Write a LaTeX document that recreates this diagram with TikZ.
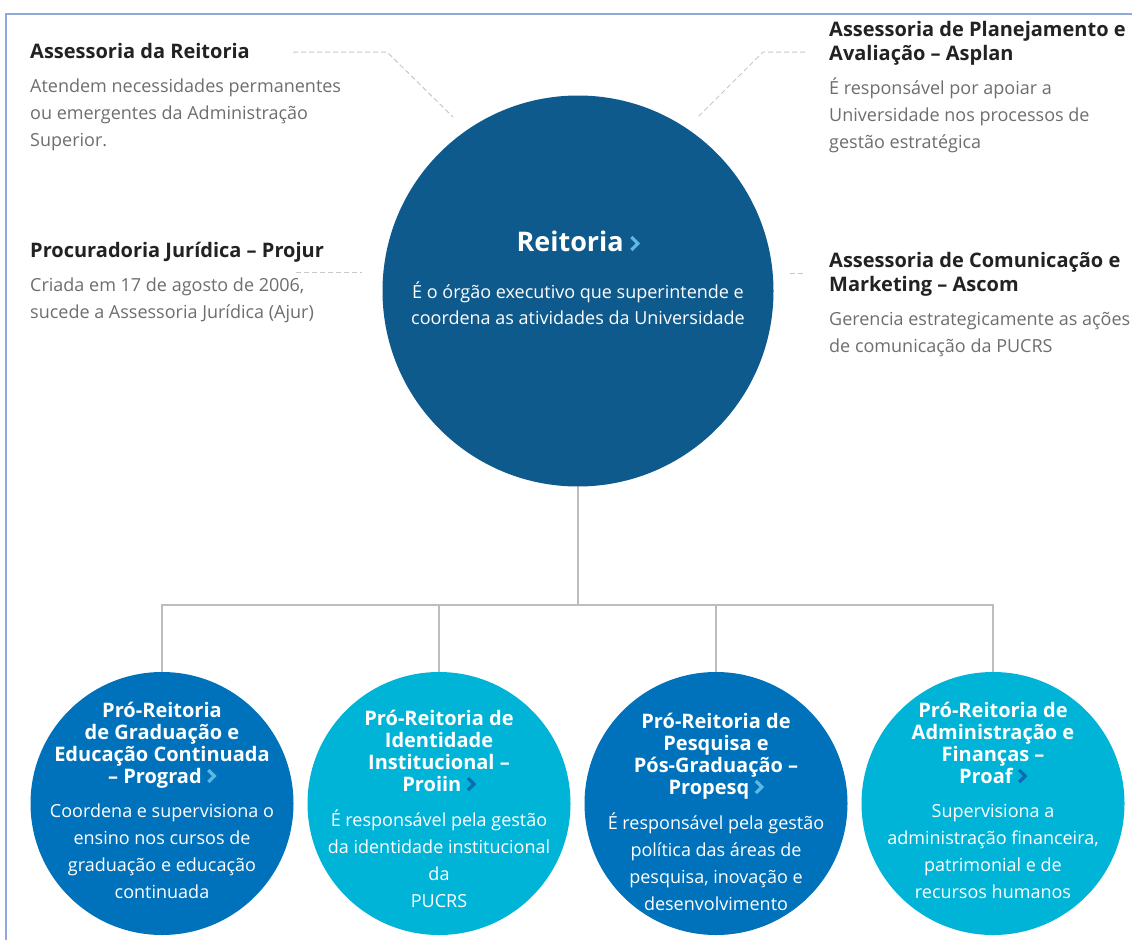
\documentclass[tikz,border=0pt]{standalone}
\usepackage{fontspec}
\setmainfont{Open Sans}
\definecolor{navy}{HTML}{0F5A8C}
\definecolor{pblue}{HTML}{0072BB}
\definecolor{pcyan}{HTML}{00B4D8}
\definecolor{chevl}{HTML}{5DB8E4}
\definecolor{chevd}{HTML}{0A6DB4}
\definecolor{headc}{HTML}{222222}
\definecolor{descc}{HTML}{6E6E6E}
\definecolor{dashc}{HTML}{C8C8C8}
\definecolor{connc}{HTML}{BDBDBD}
\definecolor{framec}{HTML}{8EAADB}
\newcommand{\chv}[2]{\tikz[baseline=0pt,x=1pt,y=1pt]{\draw[#1, line width=3.2pt, line cap=butt, line join=miter] (0,1) -- (#2*0.5,#2*0.5+1) -- (0,#2+1);}}
\tikzset{
  hd/.style={anchor=base west, inner sep=0, text=headc, font=\fontsize{20}{23.5}\selectfont\bfseries, align=left},
  ds/.style={anchor=base west, inner sep=0, text=descc, font=\fontsize{18}{27}\selectfont, align=left},
  bighead/.style={anchor=base, inner sep=0, text=white, font=\fontsize{20}{22}\selectfont\bfseries, align=center},
  bigdesc/.style={anchor=base, inner sep=0, text=white, font=\fontsize{18}{26.8}\selectfont, align=center},
  orb/.style={circle, inner sep=0, minimum size=263pt},
  conn/.style={draw=connc, line width=1.3pt},
  dashln/.style={draw=dashc, line width=1pt, dash pattern=on 5pt off 3pt},
}
\begin{document}
\begin{tikzpicture}[x=1pt,y=-1pt]
\useasboundingbox (0,0) rectangle (1132,940);
\fill[white] (0,0) rectangle (1132,940);
\draw[framec, line width=1.2pt] (6,940) -- (6,14) -- (1132,14);

% central circle
\node[circle, inner sep=0, minimum size=391pt, fill=navy] (reit) at (578,291) {};
\node[anchor=base, inner sep=0, text=white, font=\fontsize{27}{30}\selectfont\bfseries] (reitT) at (578,251) {Reitoria\hspace{6pt}\chv{chevl}{13}};
\node[anchor=base, inner sep=0, text=white, font=\fontsize{18}{26}\selectfont, align=center] (reitD) at (578,324)
  {É o órgão executivo que superintende e\\coordena as atividades da Universidade};

% side texts (base anchor = baseline of last line)
\node[hd] (arH) at (30,58) {Assessoria da Reitoria};
\node[ds] (arD) at (30,146) {Atendem necessidades permanentes\\ou emergentes da Administração\\Superior.};
\node[hd] (pjH) at (30,257) {Procuradoria Jurídica – Projur};
\node[ds] (pjD) at (30,318) {Criada em 17 de agosto de 2006,\\sucede a Assessoria Jurídica (Ajur)};
\node[hd] (apH) at (829,60) {Assessoria de Planejamento e\\Avaliação – Asplan};
\node[ds] (apD) at (829,148) {É responsável por apoiar a\\Universidade nos processos de\\gestão estratégica};
\node[hd] (acH) at (829,291) {Assessoria de Comunicação e\\Marketing – Ascom};
\node[ds] (acD) at (829,352) {Gerencia estrategicamente as ações\\de comunicação da PUCRS};

% dashed leaders
\coordinate (d1a) at (293,52); \coordinate (d1b) at (387,52); \coordinate (d1c) at (453,117);
\draw[dashln] (d1a) -- (d1b) -- (d1c);
\coordinate (d2a) at (296,272); \coordinate (d2b) at (362,272);
\draw[dashln] (d2a) -- (d2b);
\coordinate (d3a) at (805,52); \coordinate (d3b) at (763,52); \coordinate (d3c) at (698,117);
\draw[dashln] (d3a) -- (d3b) -- (d3c);
\coordinate (d4a) at (790,273); \coordinate (d4b) at (805,273);
\draw[dashln] (d4a) -- (d4b);

% bottom circles
\node[orb, fill=pblue] (p1) at (162,803.5) {};
\node[orb, fill=pcyan] (p2) at (439,803.5) {};
\node[orb, fill=pblue] (p3) at (716,803.5) {};
\node[orb, fill=pcyan] (p4) at (993,803.5) {};

% connectors
\coordinate (bar) at (578,605);
\draw[conn] (reit.south) -- (bar);
\draw[conn] (p1.north) |- (p4.north |- bar) -- (p4.north);
\draw[conn] (p2.north) -- (p2.north |- bar);
\draw[conn] (p3.north) -- (p3.north |- bar);

% bottom texts
\node[bighead] (p1H) at (162,783) {Pró-Reitoria\\de Graduação e\\Educação Continuada\\– Prograd\hspace{5pt}\chv{chevl}{12}};
\node[bigdesc] (p1D) at (162,898) {Coordena e supervisiona o\\ensino nos cursos de\\graduação e educação\\continuada};
\node[bighead] (p2H) at (439,791) {Pró-Reitoria de\\Identidade\\Institucional –\\Proiin\hspace{5pt}\chv{chevd}{12}};
\node[bigdesc] (p2D) at (439,907) {É responsável pela gestão\\da identidade institucional\\da\\PUCRS};
\node[bighead] (p3H) at (716,794) {Pró-Reitoria de\\Pesquisa e\\Pós-Graduação –\\Propesq\hspace{5pt}\chv{chevl}{12}};
\node[bigdesc] (p3D) at (716,910) {É responsável pela gestão\\política das áreas de\\pesquisa, inovação e\\desenvolvimento};
\node[bighead] (p4H) at (993,783) {Pró-Reitoria de\\Administração e\\Finanças –\\Proaf\hspace{5pt}\chv{chevd}{12}};
\node[bigdesc] (p4D) at (993,898) {Supervisiona a\\administração financeira,\\patrimonial e de\\recursos humanos};
\end{tikzpicture}
\end{document}
